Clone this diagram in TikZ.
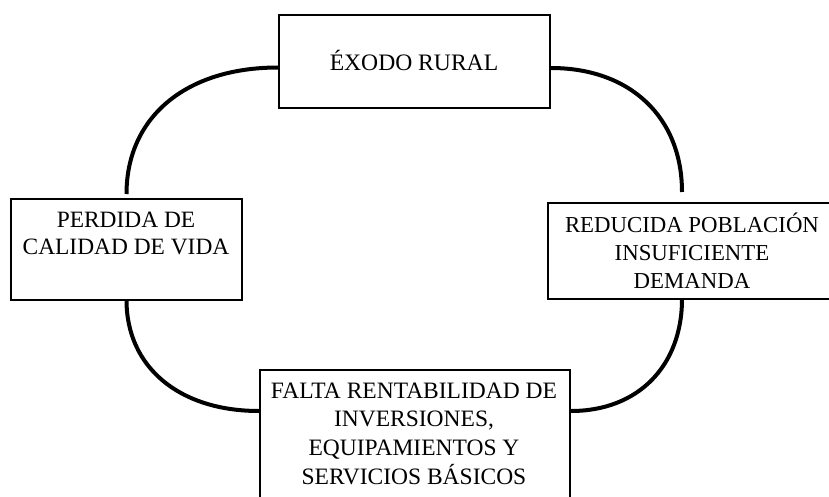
\documentclass[tikz,border=0pt]{standalone}
\usepackage{fontspec}
\setmainfont{Liberation Serif}
\begin{document}
\begin{tikzpicture}[x=1pt,y=-1pt,
  box/.style={draw=black,line width=2pt,rectangle,inner sep=0pt,fill=white},
  txt/.style={anchor=base,inner sep=0pt},
  arc/.style={line width=4pt,draw=black}]
\useasboundingbox (0,0) rectangle (829,497);
\clip (0,0) rectangle (829,497);
\fill[white] (0,0) rectangle (829,497);
% boxes
\node[box,minimum width=271pt,minimum height=93pt] (top) at (414.5,61.5) {};
\node[box,minimum width=231pt,minimum height=101pt] (left) at (126.5,249.5) {};
\node[box,minimum width=288pt,minimum height=96pt] (right) at (692,251) {};
\node[box,minimum width=310pt,minimum height=150pt] (bottom) at (415,445) {};
% texts
\node[txt] (toptext) at (414,71) {\parbox[t]{300pt}{\centering\fontsize{23.6}{28}\selectfont ÉXODO RURAL}};
\node[txt] (lefttext) at (126,227) {\parbox[t]{300pt}{\centering\fontsize{23.4}{27.3}\selectfont PERDIDA DE\\CALIDAD DE VIDA}};
\node[txt] (righttext) at (692,232.5) {\parbox[t]{300pt}{\centering\fontsize{22.8}{28}\selectfont REDUCIDA POBLACIÓN\\INSUFICIENTE\\DEMANDA}};
\node[txt] (bottomtext) at (414,398) {\parbox[t]{330pt}{\centering\fontsize{23.5}{28.7}\selectfont FALTA RENTABILIDAD DE\\INVERSIONES,\\EQUIPAMIENTOS Y\\SERVICIOS BÁSICOS}};
% arcs
\draw[arc] ([yshift=-6pt]top.west) .. controls +(-92,0) and +(0,-77) .. ([yshift=4pt]left.north);
\draw[arc] ([yshift=-6.5pt]top.east) .. controls +(79,0) and +(0,-75) .. ([xshift=-10pt,yshift=10pt]right.north);
\draw[arc] ([yshift=1pt]left.south) .. controls +(0,67) and +(-80,0) .. ([yshift=34pt]bottom.west);
\draw[arc] ([xshift=-10pt,yshift=1pt]right.south) .. controls +(0,67) and +(67,0) .. ([yshift=34pt]bottom.east);
\end{tikzpicture}
\end{document}
